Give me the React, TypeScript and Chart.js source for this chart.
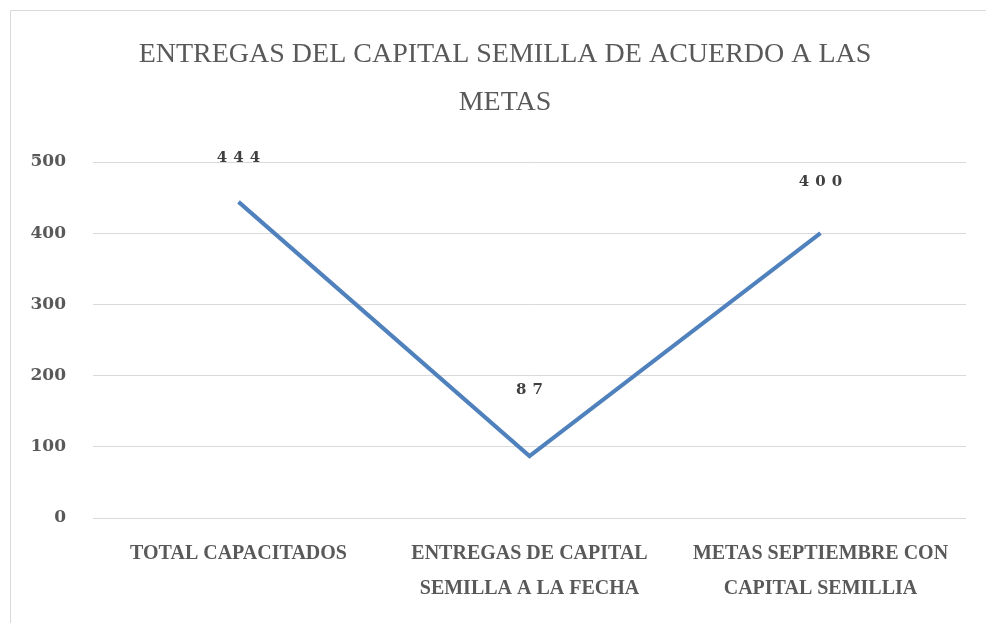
import React, { useEffect, useRef } from "react";
import { Chart, registerables } from "chart.js";

Chart.register(...registerables);

const categories: string[][] = [
  ["TOTAL CAPACITADOS"],
  ["ENTREGAS DE CAPITAL", "SEMILLA A LA FECHA"],
  ["METAS SEPTIEMBRE CON", "CAPITAL SEMILLIA"],
];
const values: number[] = [444, 87, 400];
const titleLines: string[] = ["ENTREGAS DEL CAPITAL SEMILLA DE ACUERDO A LAS", "METAS"];
const yTicks = { min: 0, max: 500, step: 100 };

const framePlugin = {
  id: "frame",
  beforeDraw(chart: any) {
    const ctx = chart.ctx;
    ctx.save();
    ctx.fillStyle = "#ffffff";
    ctx.fillRect(0, 0, chart.width, chart.height);
    ctx.strokeStyle = "#d9d9d9";
    ctx.lineWidth = 1;
    ctx.beginPath();
    ctx.moveTo(10.5, chart.height);
    ctx.lineTo(10.5, 10.5);
    ctx.lineTo(chart.width, 10.5);
    ctx.stroke();
    ctx.restore();
  },
};

const titlePlugin = {
  id: "sideTitle",
  afterDraw(chart: any, _args: any, opts: any) {
    const ctx = chart.ctx;
    const lines: string[] = opts.lines || [];
    ctx.save();
    ctx.font = "28px 'Liberation Serif'";
    ctx.fillStyle = "#595959";
    ctx.textAlign = "center";
    ctx.textBaseline = "middle";
    lines.forEach((l, i) => ctx.fillText(l, opts.centerX, opts.firstY + i * opts.lineHeight));
    ctx.restore();
  },
};

const labelPlugin = {
  id: "valueLabels",
  afterDatasetsDraw(chart: any, _args: any, opts: any) {
    const ctx = chart.ctx;
    const meta = chart.getDatasetMeta(0);
    const data = chart.data.datasets[0].data as number[];
    const lifts: number[] = opts.lifts || [];
    const spacing = 6;
    ctx.save();
    ctx.font = "bold 15px 'DejaVu Serif'";
    ctx.fillStyle = "#404040";
    ctx.textAlign = "center";
    ctx.textBaseline = "middle";
    (ctx as any).letterSpacing = spacing + "px";
    meta.data.forEach((pt: any, i: number) => {
      const lift = lifts[i] ?? 50;
      ctx.fillText(String(data[i]), pt.x + spacing / 2, pt.y - lift);
    });
    ctx.restore();
  },
};

export default function App() {
  const canvasRef = useRef<HTMLCanvasElement | null>(null);

  useEffect(() => {
    if (!canvasRef.current) return;
    const chart = new Chart(canvasRef.current, {
      type: "line",
      data: {
        labels: categories,
        datasets: [
          {
            data: values,
            borderColor: "#4F81BD",
            borderWidth: 4,
            pointRadius: 0,
            tension: 0,
            fill: false,
          },
        ],
      },
      plugins: [framePlugin, titlePlugin, labelPlugin],
      options: {
        animation: false,
        responsive: false,
        maintainAspectRatio: false,
        devicePixelRatio: 1,
        layout: { padding: { left: 0, right: 20, top: 162, bottom: 0 } },
        plugins: {
          legend: { display: false },
          tooltip: { enabled: false },
          title: { display: false },
          sideTitle: { lines: titleLines, centerX: 505, firstY: 55, lineHeight: 48 },
          valueLabels: { lifts: [44, 66, 51] },
        } as any,
        scales: {
          x: {
            offset: true,
            grid: { display: false, drawTicks: false },
            border: { display: false },
            ticks: {
              color: "#595959",
              padding: 18,
              maxRotation: 0,
              autoSkip: false,
              font: { family: "'Liberation Serif'", size: 20, weight: "bold", lineHeight: 35 / 20 },
            },
            afterFit(scale: any) {
              scale.height = 105;
            },
          },
          y: {
            min: yTicks.min,
            max: yTicks.max,
            grid: { color: "#d9d9d9", lineWidth: 1, drawTicks: false },
            border: { display: false },
            ticks: {
              stepSize: yTicks.step,
              color: "#595959",
              padding: 27,
              font: { family: "'DejaVu Serif'", size: 17, weight: "bold" },
            },
            afterFit(scale: any) {
              scale.width = 93;
            },
          },
        },
      },
    });
    return () => chart.destroy();
  }, []);

  return (
    <div style={{ position: "absolute", left: 0, top: 0, width: 986, height: 623, overflow: "hidden" }}>
      <canvas ref={canvasRef} width={986} height={623} style={{ width: 986, height: 623, display: "block" }} />
    </div>
  );
}
